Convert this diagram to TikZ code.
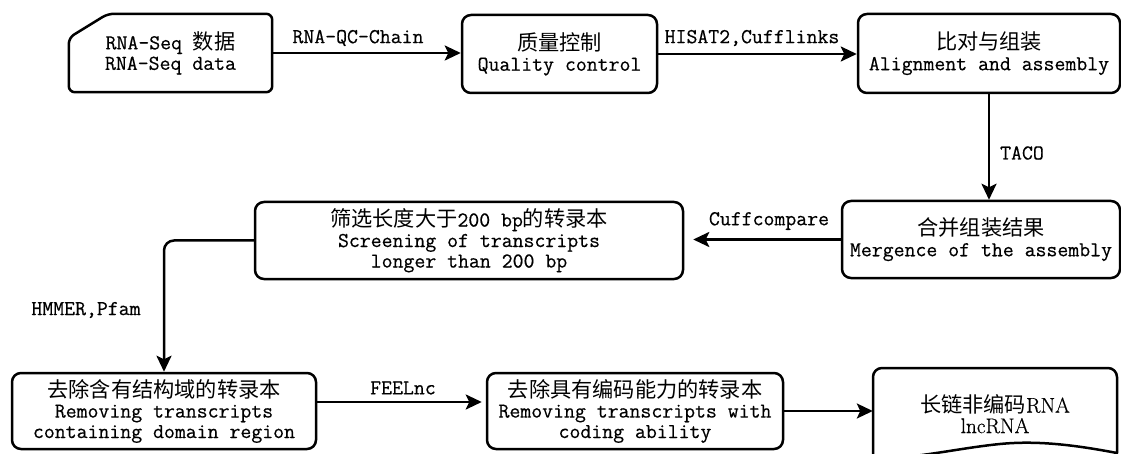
\documentclass[tikz,border=0pt]{standalone}
\usepackage{fontspec}
\setmainfont{Latin Modern Roman}[FakeBold=0.5]
\setmonofont{Latin Modern Mono}[FakeBold=0.5]
\newfontfamily\cjk{Noto Sans CJK SC}
\usetikzlibrary{arrows.meta,calc}
\begin{document}
\lineskiplimit=-100pt\lineskip=0pt
\begin{tikzpicture}[x=1pt,y=-1pt,
  every node/.style={font=\fontsize{21.2}{20.5}\selectfont\ttfamily},
  box/.style={draw, line width=2.5pt, rounded corners=9pt, align=center, inner sep=0pt},
  ghost/.style={align=center, inner sep=0pt},
  lbl/.style={inner sep=0pt},
  arr/.style={line width=2.5pt, -{Stealth[length=16pt,width=15pt,inset=3.5pt]}},
  edge/.style={line width=2.5pt, line join=round}
]
\useasboundingbox (0,0) rectangle (1121,454);

% nodes
\node[ghost, minimum width=203pt, minimum height=78pt] (b1) at (170.5,53) {RNA-Seq {\cjk 数据}\\RNA-Seq data};
\draw[edge, rounded corners=6pt] ($(b1.north west)+(0,24)$) -- ($(b1.north west)+(39,0)$) -- (b1.north east) -- (b1.south east) -- (b1.south west) -- cycle;

\node[box, minimum width=195pt, minimum height=78pt] (b2) at (559.5,54) {{\cjk 质量控制}\\Quality control};
\node[box, minimum width=262pt, minimum height=79pt] (b3) at (989,53.5) {{\cjk 比对与组装}\\Alignment and assembly};
\node[box, minimum width=278pt, minimum height=77pt] (b4) at (981,239.5) {{\cjk 合并组装结果}\\Mergence of the assembly};
\node[box, minimum width=428pt, minimum height=77pt] (b5) at (469,240.5) {{\cjk 筛选长度大于}200 bp{\cjk 的转录本}\\Screening of transcripts\\longer than 200 bp};
\node[box, minimum width=304pt, minimum height=76pt] (b6) at (164,411) {{\cjk 去除含有结构域的转录本}\\Removing transcripts\\containing domain region};
\node[box, minimum width=296pt, minimum height=76pt] (b7) at (635,411) {{\cjk 去除具有编码能力的转录本}\\Removing transcripts with\\coding ability};
\node[ghost, minimum width=244pt, minimum height=92pt] (b8) at (995,414) {{\cjk 长链非编码}{\rmfamily RNA}\\{\rmfamily lncRNA}};
\draw[edge] (873,470) [rounded corners=9pt] -- (873,368) -- (1117,368) -- (1117,400) [sharp corners] -- (1117,453)
  .. controls (1080,446) and (1040,440) .. (1000,444)
  .. controls (960,448) and (930,456) .. (873,460) -- (873,470);

% connectors
\draw[arr] (b1.east) -- (b1.east -| b2.west);
\draw[arr] (b2.east) -- (b2.east -| b3.west);
\draw[arr] (b3.south) -- (b3.south |- b4.north);
\draw[arr, shorten >=9pt] (b4.west) -- (b4.west -| b5.east);
\draw[arr, rounded corners=10pt] (b5.west) -| (b6.north);
\draw[arr, shorten >=4pt] ([yshift=9pt]b6.east) -- ([yshift=9pt]b6.east -| b7.west);
\draw[arr] (b7.east) -- (b7.east -| b8.west);

% labels
\node[lbl] (l1) at (358,38) {RNA-QC-Chain};
\node[lbl] (l2) at (752,38) {HISAT2,Cufflinks};
\node[lbl] (l3) at (1022,153) {TACO};
\node[lbl] (l4) at (769,221) {Cuffcompare};
\node[lbl] (l5) at (86,310) {HMMER,Pfam};
\node[lbl] (l6) at (403,388) {FEELnc};
\end{tikzpicture}
\end{document}
